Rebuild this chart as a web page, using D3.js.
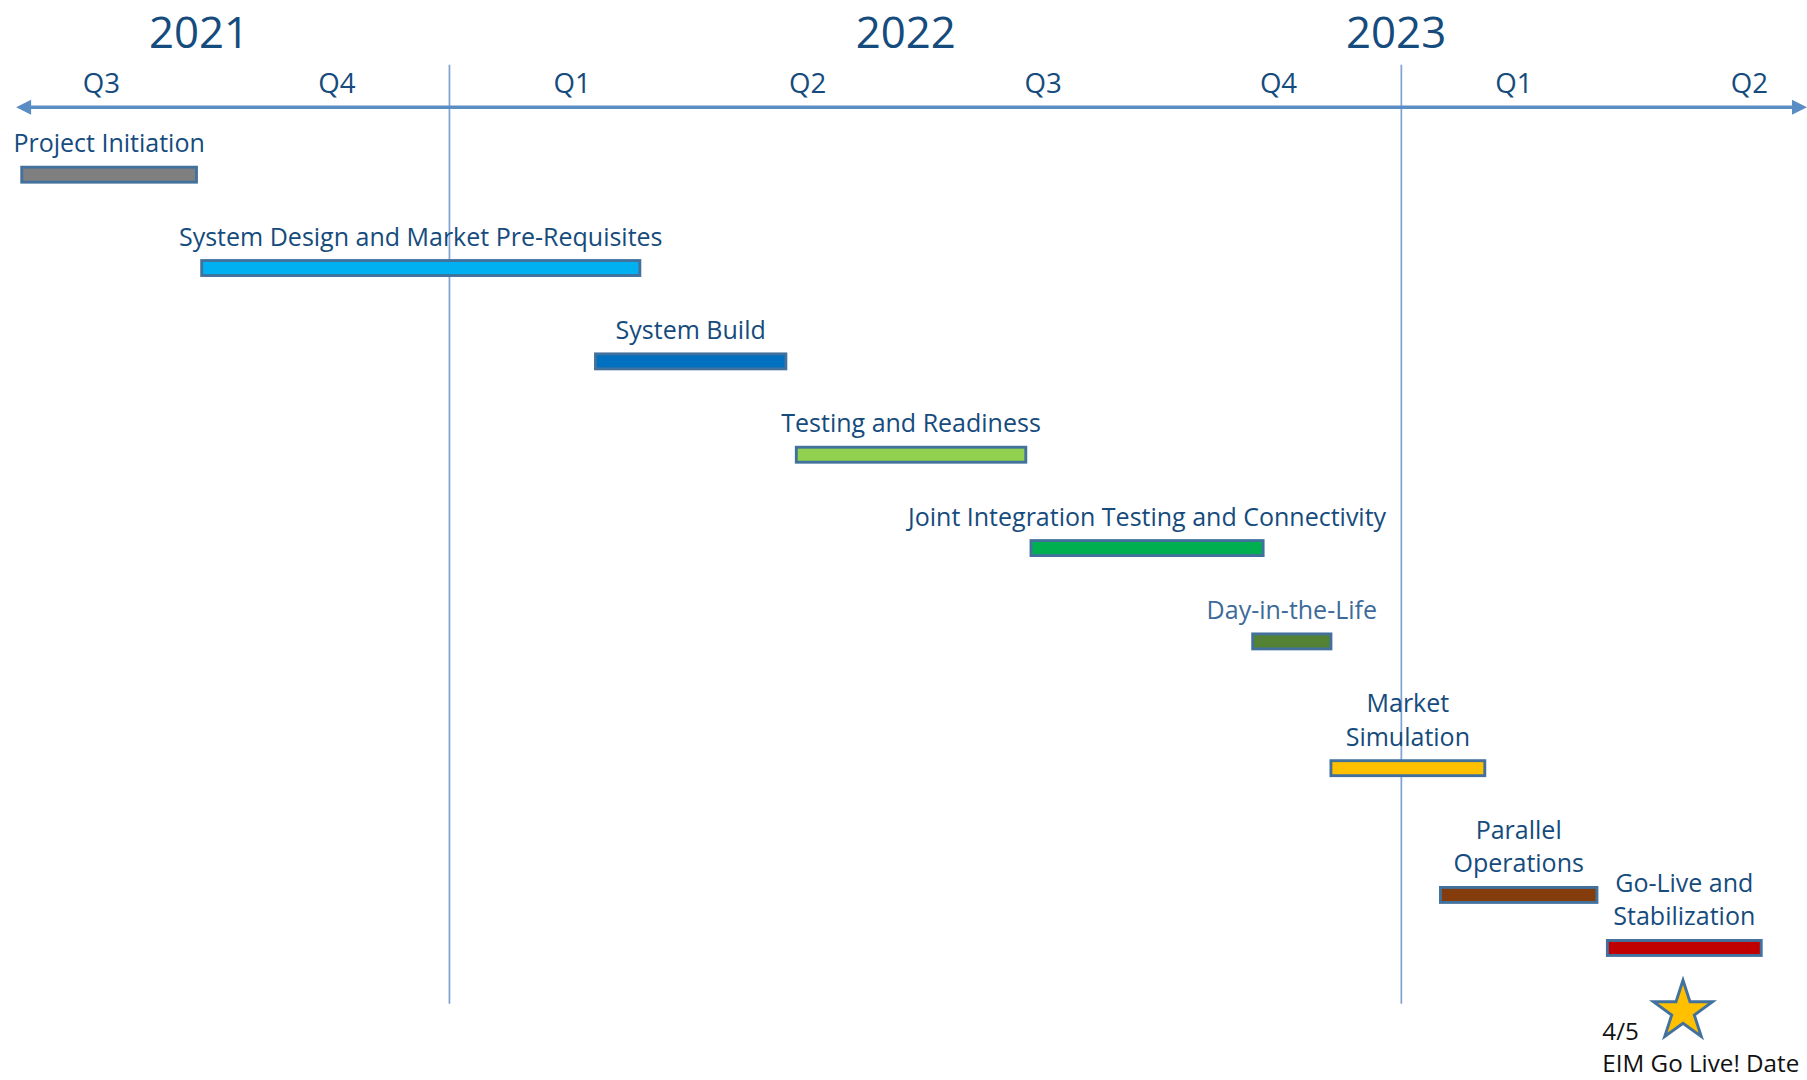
<!DOCTYPE html>
<html>
<head>
<meta charset="utf-8">
<script src="https://d3js.org/d3.v7.min.js"></script>
<style>
  body { margin: 0; background: #fff; }
  svg { display: block; }
  text { font-family: "Open Sans", "Noto Sans", sans-serif; }
</style>
</head>
<body>
<div id="my_timeline"></div>
<script>
// axis labels
var quarterNames = ["Q3", "Q4", "Q1", "Q2", "Q3", "Q4", "Q1", "Q2"];
var quarterKeys = ["2021Q3", "2021Q4", "2022Q1", "2022Q2", "2022Q3", "2022Q4", "2023Q1", "2023Q2"];
var yearNames = ["2021", "2022", "2023"];
var yearLabelDates = ["2021-09-27", "2022-06-25", "2022-12-30"];
var yearStarts = ["2022-01-01", "2023-01-01"];

// tasks
var taskLabels = [
  ["Project Initiation"],
  ["System Design and Market Pre-Requisites"],
  ["System Build"],
  ["Testing and Readiness"],
  ["Joint Integration Testing and Connectivity"],
  ["Day-in-the-Life"],
  ["Market", "Simulation"],
  ["Parallel", "Operations"],
  ["Go-Live and", "Stabilization"]
];
var taskStart = ["2021-07-21", "2021-09-28", "2022-02-26", "2022-05-14", "2022-08-12",
                 "2022-11-05", "2022-12-05", "2023-01-16", "2023-03-21"];
var taskEnd   = ["2021-09-26", "2022-03-15", "2022-05-10", "2022-08-10", "2022-11-09",
                 "2022-12-05", "2023-02-02", "2023-03-17", "2023-05-19"];
// last task sits beside the one before it instead of on its own row
var taskBeside = [false, false, false, false, false, false, false, false, true];

// milestone
var milestoneDate = "2023-04-19";
var milestoneText = ["4/5", "EIM Go Live! Date"];

// styles
var barColors = ["#7f7f7f", "#00b0f0", "#0070c0", "#92d050", "#00b050", "#548235", "#ffc000", "#843c0c", "#c00000"];
var labelColors = ["#154b7d", "#154b7d", "#154b7d", "#154b7d", "#154b7d", "#3d6b99", "#154b7d", "#154b7d", "#154b7d"];
var textBlue = "#154b7d", axisBlue = "#5b8dc5", gridBlue = "#7fa4d0", outline = "#41719c";

var W = 1568, H = 937;
var parse = d3.timeParse("%Y-%m-%d");

var svg = d3.select("#my_timeline")
  .append("svg")
    .attr("width", 1807)
    .attr("height", 1080)
    .attr("viewBox", "0 0 " + W + " " + H);

// time scale for bars and year lines
var x = d3.scaleTime()
  .domain([parse("2022-01-01"), parse("2023-01-01")])
  .range([390, 1216]);

// quarter labels
var xq = d3.scalePoint()
  .domain(quarterKeys)
  .range([88, 1518]);

var axisY = 93, axisLeft = 14, axisRight = W;

// year lines
svg.selectAll(".yearline")
  .data(yearStarts)
  .enter().append("line")
    .attr("x1", function(d) { return x(parse(d)); })
    .attr("x2", function(d) { return x(parse(d)); })
    .attr("y1", 56)
    .attr("y2", 871)
    .attr("stroke", gridBlue)
    .attr("stroke-width", 1.5);

// the axis with arrows at both ends
var ah = 13;
svg.append("line")
  .attr("x1", axisLeft + ah - 1).attr("x2", axisRight - ah + 1)
  .attr("y1", axisY).attr("y2", axisY)
  .attr("stroke", axisBlue)
  .attr("stroke-width", 3);
svg.append("path")
  .attr("d", "M" + axisLeft + "," + axisY + "l" + ah + "," + (-ah / 2) + "v" + ah + "z")
  .attr("fill", axisBlue);
svg.append("path")
  .attr("d", "M" + axisRight + "," + axisY + "l" + (-ah) + "," + (-ah / 2) + "v" + ah + "z")
  .attr("fill", axisBlue);

svg.selectAll(".quarter")
  .data(quarterKeys)
  .enter().append("text")
    .attr("x", function(d) { return xq(d); })
    .attr("y", 81)
    .attr("text-anchor", "middle")
    .attr("font-size", 24)
    .attr("fill", textBlue)
    .text(function(d, i) { return quarterNames[i]; });

svg.selectAll(".year")
  .data(yearNames)
  .enter().append("text")
    .attr("x", function(d, i) { return x(parse(yearLabelDates[i])); })
    .attr("y", 42)
    .attr("text-anchor", "middle")
    .attr("font-size", 38)
    .attr("fill", textBlue)
    .text(function(d) { return d; });

// vertical layout: each row = label lines + bar
var firstBarY = 151.5, lineH = 29, labelToBar = 27, rowGap = 54, barH = 13;
var barY = [];
taskLabels.forEach(function(lines, i) {
  if (i === 0) barY.push(firstBarY);
  else if (taskBeside[i]) barY.push(barY[i - 1] + lines.length * lineH - 12);
  else barY.push(barY[i - 1] + rowGap + (lines.length - 1) * lineH + labelToBar);
});

var rows = svg.selectAll(".task")
  .data(taskLabels)
  .enter().append("g")
    .attr("class", "task");

rows.append("rect")
  .attr("x", function(d, i) { return x(parse(taskStart[i])); })
  .attr("y", function(d, i) { return barY[i] - barH / 2; })
  .attr("width", function(d, i) { return x(parse(taskEnd[i])) - x(parse(taskStart[i])); })
  .attr("height", barH)
  .attr("fill", function(d, i) { return barColors[i]; })
  .attr("stroke", outline)
  .attr("stroke-width", 2.5);

rows.append("text")
  .attr("text-anchor", "middle")
  .attr("font-size", 21.7)
  .attr("fill", function(d, i) { return labelColors[i]; })
  .each(function(lines, i) {
    var cx = (x(parse(taskStart[i])) + x(parse(taskEnd[i]))) / 2;
    var top = barY[i] - labelToBar - (lines.length - 1) * lineH + 7.5;
    d3.select(this).selectAll("tspan")
      .data(lines)
      .enter().append("tspan")
        .attr("x", cx)
        .attr("y", function(l, j) { return top + j * lineH; })
        .text(function(l) { return l; });
  });

// go-live star
var starX = x(parse(milestoneDate)), starY = barY[barY.length - 1] + 55;
svg.append("path")
  .attr("d", d3.symbol().type(d3.symbolStar).size(818)())
  .attr("transform", "translate(" + starX + "," + starY + ")")
  .attr("fill", "#ffc000")
  .attr("stroke", outline)
  .attr("stroke-width", 2.5);

svg.append("text")
  .attr("font-size", 21)
  .attr("fill", "#111")
  .selectAll("tspan")
  .data(milestoneText)
  .enter().append("tspan")
    .attr("x", starX - 70)
    .attr("y", function(d, i) { return starY + 25 + i * 28; })
    .text(function(d) { return d; });
</script>
</body>
</html>
